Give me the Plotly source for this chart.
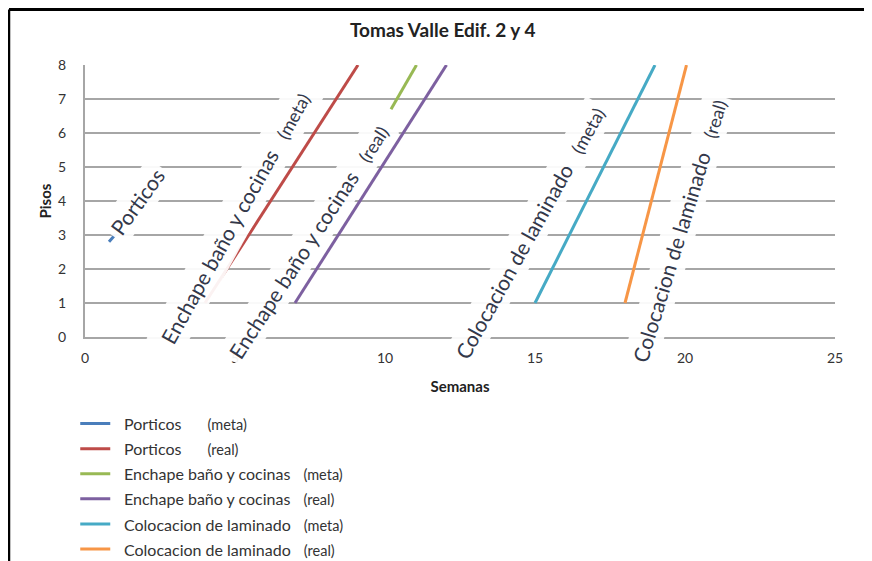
import plotly.graph_objects as go

# ---- data ----
series_names = ["Porticos", "Porticos", "Enchape baño y cocinas", "Enchape baño y cocinas",
                "Colocacion de laminado", "Colocacion de laminado"]
series_tags = ["(meta)", "(real)", "(meta)", "(real)", "(meta)", "(real)"]
series_gaps = [6, 6, 3, 3, 3, 3]
series_colors = ["#4a7ebb", "#be4b48", "#98b954", "#7d60a0", "#46aac5", "#f79646"]
porticos_meta_x = [0.8, 1.0]
porticos_meta_y = [2.8, 3.0]
porticos_real_x = [4.0, 9.1]
porticos_real_y = [1, 8]
enchape_meta_x = [10.2, 11.05]
enchape_meta_y = [6.7, 8]
enchape_real_x = [7.0, 12.05]
enchape_real_y = [1, 8]
laminado_meta_x = [15.0, 19.0]
laminado_meta_y = [1, 8]
laminado_real_x = [18.0, 20.05]
laminado_real_y = [1, 8]
xs = [porticos_meta_x, porticos_real_x, enchape_meta_x, enchape_real_x, laminado_meta_x, laminado_real_x]
ys = [porticos_meta_y, porticos_real_y, enchape_meta_y, enchape_real_y, laminado_meta_y, laminado_real_y]

# in-plot labels: text, tag, x, y, angle
label_texts = ["Porticos", "Enchape baño y cocinas", "Enchape baño y cocinas",
               "Colocacion de laminado", "Colocacion de laminado"]
label_tags = ["", "(meta)", "(real)", "(meta)", "(real)"]
label_x = [1.73, 4.98, 7.45, 14.83, 19.8]
label_y = [4.0, 3.5, 2.8, 3.06, 3.1]
label_angle = [-54, -61, -57, -61, -73]
label_pad = [4, 6, 4, 4, 4]

x_title = "Semanas"
y_title = "Pisos"
chart_title = "Tomas Valle Edif. 2 y 4"

FONT = "Lato, 'Open Sans', sans-serif"
W, H = 864, 553
L, T, PW, PH = 77, 57, 750, 272

fig = go.Figure()
for name, tag, gap, col, x, y in zip(series_names, series_tags, series_gaps, series_colors, xs, ys):
    legend_text = ("&nbsp;&nbsp;" + f"<span style='font-size:16px'>{name}</span>" + "&nbsp;" * gap +
                   f"<span style='font-size:14.5px'>{tag}</span>")
    fig.add_trace(go.Scatter(x=x, y=y, mode="lines", name=legend_text,
                             line=dict(color=col, width=3)))

for t, tag, x, y, a, p in zip(label_texts, label_tags, label_x, label_y, label_angle, label_pad):
    txt = t if not tag else t + "&nbsp;" * 3 + f"<span style='font-size:18px'>{tag}</span>"
    fig.add_annotation(x=x, y=y, xref="x", yref="y", text=txt, showarrow=False,
                       textangle=a, font=dict(family=FONT, size=21, color="#33384a"),
                       bgcolor="rgba(255,255,255,0.93)", borderpad=p)

# frame: top and left edges (paper y = 1 is the plot top, fig top is 1 + T/PH)
top_y = 1 + (T - 1.5) / PH
left_x = -(L - 1) / PW
fig.add_shape(type="line", xref="paper", yref="paper",
              x0=left_x, x1=(W - L) / PW, y0=top_y, y1=top_y,
              line=dict(color="black", width=3))
fig.add_shape(type="line", xref="paper", yref="paper",
              x0=left_x, x1=left_x, y0=-(H - T - PH) / PH, y1=top_y,
              line=dict(color="black", width=2.5))

fig.update_layout(
    width=W, height=H,
    margin=dict(l=L, r=W - L - PW, t=T, b=H - T - PH),
    paper_bgcolor="white", plot_bgcolor="white",
    font=dict(family=FONT, color="#404040", size=14),
    title=dict(text=f"<b>{chart_title}</b>", x=0.477, xref="paper", xanchor="center",
               y=(H - 22) / H, yanchor="middle",
               font=dict(family=FONT, size=19, color="#222222")),
    xaxis=dict(range=[0, 25], dtick=5, showgrid=False, zeroline=False, showline=True,
               linecolor="#a6a6a6", linewidth=2, ticks="", ticklabelstandoff=7,
               tickfont=dict(size=14, color="#333333"),
               title=dict(text=f"<b>{x_title}</b>", font=dict(size=15, color="#222222"), standoff=17)),
    yaxis=dict(range=[0, 8], dtick=1, showgrid=True, gridcolor="#a6a6a6", gridwidth=2,
               zeroline=False, showline=True, linecolor="#a6a6a6", linewidth=2, ticks="",
               ticklabelstandoff=14, tickfont=dict(size=14, color="#333333"),
               title=dict(text=f"<b>{y_title}</b>", font=dict(size=15, color="#222222"), standoff=3)),
    legend=dict(x=-0.013, xanchor="left", xref="paper", y=1 - 398 / H, yref="container",
                yanchor="top", font=dict(size=17, color="#333333"),
                bgcolor="rgba(0,0,0,0)", itemwidth=30),
    showlegend=True,
)

fig.write_html("out.html")
